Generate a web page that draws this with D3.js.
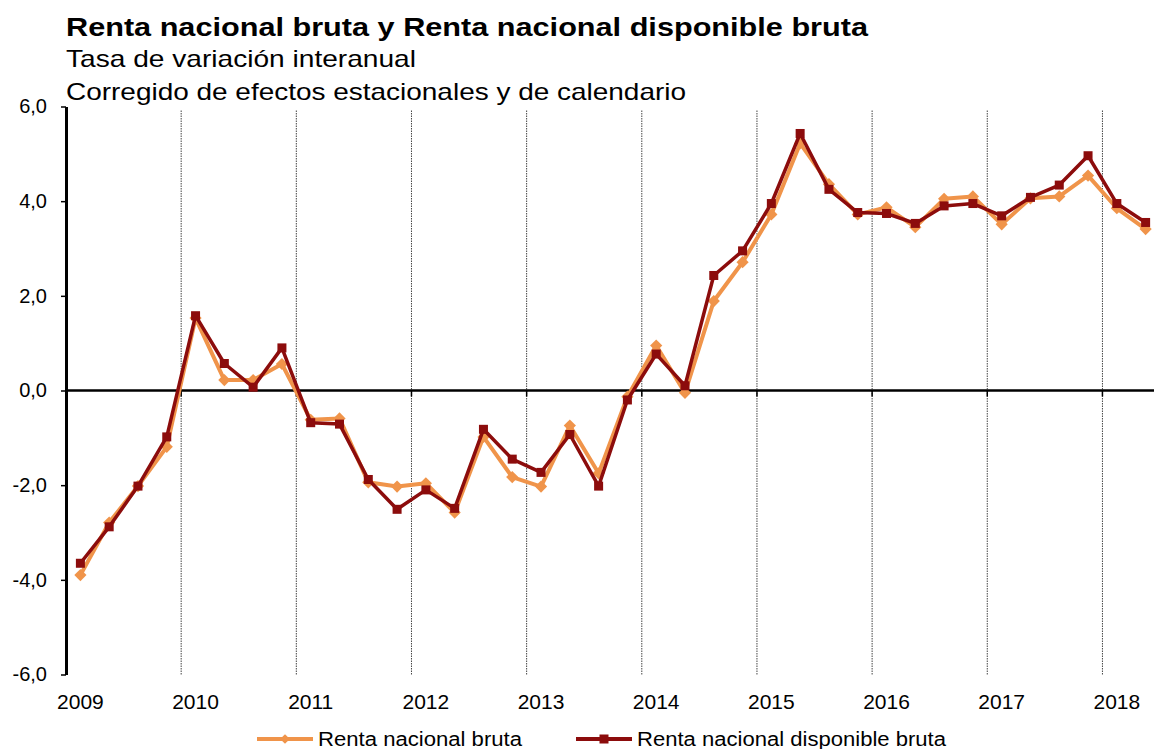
<!DOCTYPE html>
<html>
<head>
<meta charset="utf-8">
<script src="https://cdn.jsdelivr.net/npm/d3@7"></script>
<style>
  body { margin: 0; background: #fff; }
  svg { font-family: "Liberation Sans", Arial, sans-serif; }
</style>
</head>
<body>
<svg id="chart" width="1154" height="749"></svg>
<script>
// trimestres 2009T1 - 2018T2
let years = [2009, 2010, 2011, 2012, 2013, 2014, 2015, 2016, 2017, 2018];
let quarters = [];
for (let y of years) for (let q = 1; q <= 4; q++) quarters.push(y + "T" + q);
quarters = quarters.slice(0, 38);

let rnb = [-3.90, -2.79, -2.02, -1.19, 1.53, 0.22, 0.22, 0.56,
           -0.62, -0.59, -1.94, -2.03, -1.96, -2.58, -0.98, -1.83,
           -2.03, -0.74, -1.75, -0.13, 0.95, -0.05, 1.89, 2.71,
           3.72, 5.22, 4.36, 3.72, 3.87, 3.45, 4.05, 4.10,
           3.51, 4.06, 4.10, 4.54, 3.85, 3.41];

let rndb = [-3.65, -2.88, -2.02, -0.98, 1.58, 0.57, 0.07, 0.90,
            -0.68, -0.71, -1.88, -2.51, -2.10, -2.49, -0.82, -1.45,
            -1.73, -0.93, -2.02, -0.20, 0.77, 0.10, 2.43, 2.95,
            3.95, 5.43, 4.25, 3.76, 3.74, 3.53, 3.90, 3.95,
            3.69, 4.08, 4.34, 4.96, 3.95, 3.55];

let yTicks = [-6, -4, -2, 0, 2, 4, 6];

let orange = "#F0944A";
let darkRed = "#8C0C0C";

let svg = d3.select("#chart");

let x = d3.scaleBand()
          .domain(quarters)
          .range([66, 66 + 38 * 28.79])
          .padding(0);
let cx = d => x(d) + x.bandwidth() / 2;

let y = d3.scaleLinear()
          .domain([-6, 6])
          .range([674.5, 106.5]);

// titulos
svg.append("text").attr("x", 66).attr("y", 36)
   .attr("font-size", 26).attr("font-weight", "bold")
   .attr("textLength", 802).attr("lengthAdjust", "spacingAndGlyphs")
   .text("Renta nacional bruta y Renta nacional disponible bruta");
svg.append("text").attr("x", 66).attr("y", 67)
   .attr("font-size", 24)
   .attr("textLength", 350).attr("lengthAdjust", "spacingAndGlyphs")
   .text("Tasa de variación interanual");
svg.append("text").attr("x", 66).attr("y", 100)
   .attr("font-size", 24)
   .attr("textLength", 620).attr("lengthAdjust", "spacingAndGlyphs")
   .text("Corregido de efectos estacionales y de calendario");

// lineas verticales de cada año
let yearStarts = quarters.filter(q => q.endsWith("T1")).slice(1);
svg.selectAll(".vline")
   .data(yearStarts)
   .enter()
   .append("line")
   .attr("x1", d => x(d)).attr("x2", d => x(d))
   .attr("y1", y(6) + 4).attr("y2", y(-6))
   .attr("stroke", "#444")
   .attr("stroke-width", 1)
   .attr("stroke-dasharray", "1.5,1");

// eje y
let yAxis = svg.append("g")
   .attr("transform", "translate(66,0)")
   .call(d3.axisLeft(y)
           .tickValues(yTicks)
           .tickSize(5)
           .tickSizeOuter(0)
           .tickPadding(14)
           .tickFormat(d => d3.format(".1f")(d).replace(".", ",").replace("−", "-")));
yAxis.select(".domain").attr("stroke-width", 3);
yAxis.selectAll(".tick line").attr("stroke-width", 1.5);
yAxis.selectAll("text").attr("font-size", 20).attr("fill", "#000")
     .attr("font-family", "Liberation Sans, Arial, sans-serif");

// linea del cero y marcas
svg.append("line")
   .attr("x1", 66).attr("x2", 1154)
   .attr("y1", y(0)).attr("y2", y(0))
   .attr("stroke", "#000").attr("stroke-width", 2.5);
svg.selectAll(".ztick")
   .data(yearStarts)
   .enter()
   .append("line")
   .attr("x1", d => x(d)).attr("x2", d => x(d))
   .attr("y1", y(0)).attr("y2", y(0) + 6)
   .attr("stroke", "#000").attr("stroke-width", 1.5);

// etiquetas de años
svg.selectAll(".ylab")
   .data(quarters.filter(q => q.endsWith("T1")))
   .enter()
   .append("text")
   .attr("x", d => cx(d))
   .attr("y", 709)
   .attr("text-anchor", "middle")
   .attr("font-size", 21)
   .text(d => d.slice(0, 4));

let line = d3.line()
             .x((d, i) => cx(quarters[i]))
             .y(d => y(d));

let diamond = d3.symbol().type(d3.symbolDiamond2).size(95);

// Renta nacional bruta
svg.append("path")
   .datum(rnb)
   .attr("d", line)
   .attr("fill", "none")
   .attr("stroke", orange)
   .attr("stroke-width", 4)
   .attr("stroke-linejoin", "round");
svg.selectAll(".mk1")
   .data(rnb)
   .enter()
   .append("path")
   .attr("transform", (d, i) => `translate(${cx(quarters[i])},${y(d)})`)
   .attr("d", diamond)
   .attr("fill", orange);

// Renta nacional disponible bruta
svg.append("path")
   .datum(rndb)
   .attr("d", line)
   .attr("fill", "none")
   .attr("stroke", darkRed)
   .attr("stroke-width", 3.5)
   .attr("stroke-linejoin", "round");
svg.selectAll(".mk2")
   .data(rndb)
   .enter()
   .append("rect")
   .attr("x", (d, i) => cx(quarters[i]) - 4.5)
   .attr("y", d => y(d) - 4.5)
   .attr("width", 9).attr("height", 9)
   .attr("fill", darkRed);

// leyenda
let legend = [
  {name: "Renta nacional bruta", color: orange, x0: 257, x1: 313, tx: 318, tl: 204, shape: "diamond"},
  {name: "Renta nacional disponible bruta", color: darkRed, x0: 576, x1: 632, tx: 637, tl: 309, shape: "square"}
];
let ly = 739;
for (let l of legend) {
  svg.append("line")
     .attr("x1", l.x0).attr("x2", l.x1)
     .attr("y1", ly).attr("y2", ly)
     .attr("stroke", l.color).attr("stroke-width", 4);
  let mx = (l.x0 + l.x1) / 2;
  if (l.shape == "diamond") {
    svg.append("path")
       .attr("transform", `translate(${mx},${ly})`)
       .attr("d", d3.symbol().type(d3.symbolDiamond2).size(60))
       .attr("fill", l.color);
  } else {
    svg.append("rect")
       .attr("x", mx - 4.5).attr("y", ly - 4.5)
       .attr("width", 9).attr("height", 9)
       .attr("fill", l.color);
  }
  svg.append("text")
     .attr("x", l.tx).attr("y", ly + 7)
     .attr("font-size", 20)
     .attr("textLength", l.tl).attr("lengthAdjust", "spacingAndGlyphs")
     .text(l.name);
}
</script>
</body>
</html>
